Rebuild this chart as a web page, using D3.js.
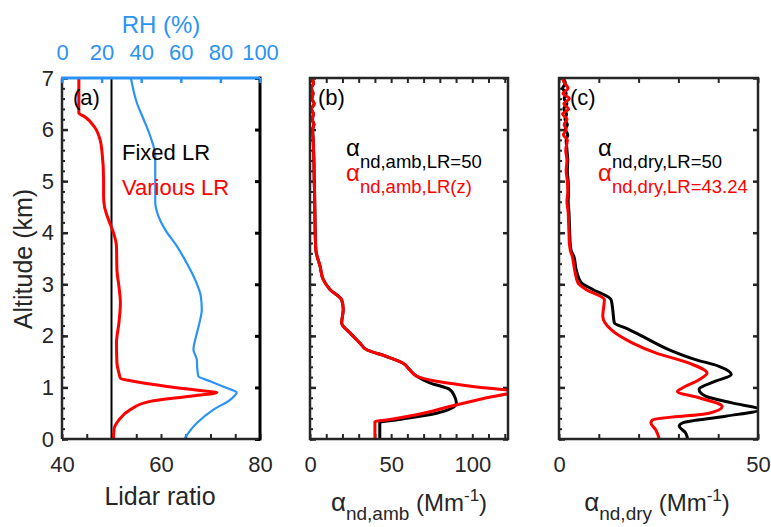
<!DOCTYPE html>
<html>
<head>
<meta charset="utf-8">
<script src="https://cdn.jsdelivr.net/npm/d3@7"></script>
<style>
  body { margin: 0; background: #fff; }
  text { font-family: "Liberation Sans", Arial, sans-serif; }
</style>
</head>
<body>
<svg id="chart" width="771" height="527"></svg>
<script>
// ---- data ----
// (a) lidar ratio profile (various LR) and RH
const lrAlt = [7.0, 6.32, 6.25, 6.03, 5.8, 5.55, 5.03, 4.7, 4.5, 4.25, 4.0, 3.74, 3.28, 2.96, 2.64, 2.25, 1.86, 1.47, 1.28, 1.18, 1.12, 1.02, 0.94, 0.9, 0.83, 0.73, 0.57, 0.37, 0.18, 0.0];
const lrVarious = [43.4, 43.4, 44.6, 46.7, 47.7, 48.1, 48.4, 48.4, 48.6, 49.4, 50.4, 51.0, 51.1, 51.5, 51.8, 51.5, 51.0, 51.1, 51.5, 51.8, 54.4, 61.2, 67.9, 71.3, 65.9, 57.8, 53.8, 51.5, 50.5, 50.4];
const lrFixed = 50;
const rhAlt = [7.0, 6.52, 6.2, 5.88, 5.49, 5.03, 4.58, 4.32, 4.06, 3.74, 3.41, 3.09, 2.77, 2.51, 2.25, 1.99, 1.73, 1.54, 1.38, 1.22, 1.12, 0.99, 0.9, 0.76, 0.57, 0.31, 0.0];
const rhVal = [34.8, 37.8, 41.2, 44.5, 47.1, 47.1, 47.1, 48.7, 52.1, 58.0, 63.0, 67.2, 70.1, 70.6, 69.4, 67.7, 66.4, 68.1, 68.3, 68.8, 74.8, 83.2, 88.2, 84.9, 76.5, 68.1, 61.7];

// (b) ambient extinction
const ambUpperAlt = [7.0, 6.9, 6.8, 6.7, 6.6, 6.5, 6.4, 6.3, 6.2, 6.1, 6.0, 5.8, 5.6, 5.4, 5.2, 5.0, 4.8, 4.6, 4.4, 4.2, 4.0, 3.8, 3.64];
const ambUpper = [1.0, 2.2, 0.8, 1.9, 1.2, 2.6, 0.9, 2.1, 1.4, 2.4, 1.6, 2.0, 2.2, 2.4, 2.5, 2.6, 2.8, 2.9, 3.0, 3.1, 3.2, 3.4, 3.7];
const ambFixedAlt = [3.35, 3.09, 2.9, 2.7, 2.51, 2.25, 2.06, 1.86, 1.73, 1.6, 1.47, 1.34, 1.22, 1.09, 0.96, 0.83, 0.7, 0.6, 0.5, 0.37, 0.32, 0.2, 0.0];
const ambFixed = [6.2, 8.2, 12.3, 19.5, 20.5, 19.5, 24.6, 30.8, 34.9, 47.2, 57.4, 61.5, 65.6, 73.8, 86.1, 89.0, 90.2, 87.5, 77.9, 53.0, 43.0, 43.0, 43.0];
const ambVarAlt = [3.35, 3.09, 2.9, 2.7, 2.51, 2.25, 2.06, 1.86, 1.73, 1.6, 1.47, 1.34, 1.22, 1.12, 1.02, 0.92, 0.8, 0.63, 0.47, 0.37, 0.34, 0.2, 0.0];
const ambVar = [6.2, 8.2, 12.3, 19.5, 20.5, 19.5, 24.6, 30.8, 34.9, 47.2, 57.4, 61.5, 65.6, 77.9, 100.0, 125.0, 108.7, 86.0, 65.6, 47.2, 40.0, 40.0, 40.0];

// (c) dry extinction
const dryUpperAlt = [7.0, 6.9, 6.8, 6.7, 6.6, 6.5, 6.4, 6.3, 6.2, 6.1, 6.0, 5.9, 5.8, 5.6, 5.4, 5.2, 5.0, 4.8, 4.6, 4.4, 4.2, 4.0, 3.8, 3.64];
const dryFixedUpper = [1.0, 1.6, 0.9, 1.8, 1.3, 2.0, 1.2, 1.9, 1.5, 2.1, 1.6, 2.2, 1.8, 2.0, 2.2, 2.1, 2.3, 2.4, 2.3, 2.5, 2.6, 2.7, 2.8, 3.1];
const dryVarUpper = [0.8, 1.4, 2.3, 1.0, 2.6, 1.2, 2.4, 0.9, 2.0, 1.3, 1.8, 1.1, 2.1, 1.7, 2.0, 1.8, 2.1, 2.2, 2.0, 2.3, 2.4, 2.5, 2.6, 2.9];
const dryFixedAlt = [3.55, 3.29, 3.03, 2.9, 2.7, 2.51, 2.25, 2.15, 1.99, 1.73, 1.54, 1.41, 1.25, 1.12, 0.96, 0.83, 0.7, 0.57, 0.44, 0.31, 0.25, 0.12, 0.0];
const dryFixed = [3.7, 4.3, 5.6, 8.5, 13.1, 13.5, 13.9, 16.8, 21.0, 27.7, 34.3, 40.2, 43.3, 39.3, 35.2, 36.8, 43.5, 50.5, 41.8, 31.0, 30.2, 31.8, 32.3];
const dryVarAlt = [3.55, 3.29, 3.03, 2.9, 2.7, 2.38, 2.12, 1.86, 1.67, 1.47, 1.28, 1.15, 0.99, 0.92, 0.8, 0.63, 0.5, 0.37, 0.31, 0.18, 0.0];
const dryVar = [3.3, 3.9, 4.75, 6.8, 11.4, 11.0, 13.1, 18.5, 24.3, 32.7, 37.2, 35.2, 31.0, 29.75, 35.2, 41.0, 37.7, 23.5, 23.1, 24.3, 25.2];

const altTicks = [0, 1, 2, 3, 4, 5, 6, 7];
const lrTicks = [40, 60, 80];
const rhTicks = [0, 20, 40, 60, 80, 100];
const ambTicks = [0, 50, 100];
const dryTicks = [0, 50];

// ---- layout ----
const svg = d3.select("#chart");
const plotTop = 78, plotBottom = 439;
const axisGray = "#262626", blue = "#2b93f5", red = "#ff0000";

const y = d3.scaleLinear().domain([0, 7]).range([plotBottom, plotTop]);
const xa = d3.scaleLinear().domain([40, 80]).range([62, 260]);
const xrh = d3.scaleLinear().domain([0, 100]).range([62, 260]);
const xb = d3.scaleLinear().domain([0, 122]).range([310, 508]);
const xc = d3.scaleLinear().domain([0, 50]).range([559, 758]);

function styleAxis(g, color, width, size) {
    g.select(".domain").remove();
    g.selectAll(".tick line").attr("stroke", color).attr("stroke-width", width);
    g.selectAll(".tick text").attr("fill", color).style("font-size", size + "px");
}

function frame(x, id, minorStep) {
    const [x0, x1] = x.range();
    svg.append("clipPath").attr("id", id)
        .append("rect").attr("x", x0).attr("y", plotTop).attr("width", x1 - x0).attr("height", plotBottom - plotTop);

    // left axis: minor + major ticks
    svg.append("g").attr("transform", `translate(${x0},0)`)
        .call(d3.axisLeft(y).tickValues(d3.range(0, 7.01, 0.2)).tickSize(-3).tickFormat(""))
        .call(g => styleAxis(g, axisGray, 2, 0));
    svg.append("g").attr("transform", `translate(${x0},0)`)
        .call(d3.axisLeft(y).tickValues(altTicks).tickSize(-6).tickFormat(""))
        .call(g => styleAxis(g, axisGray, 2.5, 0));
    // bottom ticks
    const xs = d3.range(x.domain()[0], x.domain()[1] + 0.01, minorStep);
    svg.append("g").attr("transform", `translate(0,${plotBottom})`)
        .call(d3.axisBottom(x).tickValues(xs).tickSize(-5).tickFormat(""))
        .call(g => styleAxis(g, axisGray, 2, 0));
    return [x0, x1];
}

function profile(x, vals, alts, color, width, clip) {
    svg.append("path")
        .datum(d3.zip(vals, alts))
        .attr("clip-path", `url(#${clip})`)
        .attr("fill", "none")
        .attr("stroke", color)
        .attr("stroke-width", width)
        .attr("stroke-linejoin", "round")
        .attr("d", d3.line().x(d => x(d[0])).y(d => y(d[1])).curve(d3.curveMonotoneY));
}

// ---- panel (a) ----
const [ax0, ax1] = frame(xa, "clipA", 5);
svg.append("line")
    .attr("x1", xa(lrFixed)).attr("x2", xa(lrFixed))
    .attr("y1", y(0)).attr("y2", y(7))
    .attr("stroke", "#000").attr("stroke-width", 2);
profile(xrh, rhVal, rhAlt, blue, 2.2, "clipA");
profile(xa, lrVarious, lrAlt, red, 3, "clipA");

// right axis (black) and top RH axis (blue)
svg.append("g").attr("transform", `translate(${ax1},0)`)
    .call(d3.axisRight(y).tickValues(altTicks).tickSize(-5).tickFormat(""))
    .call(g => styleAxis(g, "#000", 3, 0));
svg.append("line").attr("x1", ax0).attr("x2", ax0).attr("y1", plotTop).attr("y2", plotBottom)
    .attr("stroke", axisGray).attr("stroke-width", 2.5);
svg.append("line").attr("x1", ax0).attr("x2", ax1).attr("y1", plotBottom).attr("y2", plotBottom)
    .attr("stroke", axisGray).attr("stroke-width", 2.5);
svg.append("line").attr("x1", ax1).attr("x2", ax1).attr("y1", plotTop - 1.5).attr("y2", plotBottom + 1.5)
    .attr("stroke", "#000").attr("stroke-width", 3);
svg.append("g").attr("transform", `translate(0,${plotTop})`)
    .call(d3.axisTop(xrh).tickValues(rhTicks).tickSize(-5).tickPadding(18))
    .call(g => styleAxis(g, blue, 2.5, 22));
svg.append("line").attr("x1", ax0 - 1).attr("x2", ax1).attr("y1", plotTop).attr("y2", plotTop)
    .attr("stroke", blue).attr("stroke-width", 3);

svg.append("g").attr("transform", `translate(${ax0},0)`)
    .call(d3.axisLeft(y).tickValues(altTicks).tickSize(0).tickPadding(8).tickFormat(d3.format("d")))
    .call(g => styleAxis(g, axisGray, 0, 22));
svg.append("g").attr("transform", `translate(0,${plotBottom})`)
    .call(d3.axisBottom(xa).tickValues(lrTicks).tickSize(0).tickPadding(17))
    .call(g => styleAxis(g, axisGray, 0, 22));

svg.append("text").attr("x", 73).attr("y", 105).attr("font-size", 22).text("(a)");
svg.append("text").attr("x", 122).attr("y", 160).attr("font-size", 22).attr("fill", "#000").text("Fixed LR");
svg.append("text").attr("x", 122).attr("y", 195).attr("font-size", 22).attr("fill", red).text("Various LR");

svg.append("text").attr("x", 161).attr("y", 33).attr("text-anchor", "middle")
    .attr("font-size", 24).attr("fill", blue).text("RH (%)");
svg.append("text").attr("x", 160).attr("y", 505).attr("text-anchor", "middle")
    .attr("font-size", 25).attr("fill", axisGray).text("Lidar ratio");
svg.append("text").attr("transform", "translate(32,259) rotate(-90)").attr("text-anchor", "middle")
    .attr("font-size", 25).attr("fill", axisGray).text("Altitude (km)");

// ---- panels (b) and (c) ----
function boxPanel(x, clip, minorStep, tickVals) {
    const [x0, x1] = frame(x, clip, minorStep);
    const xs = d3.range(x.domain()[0], x.domain()[1] + 0.01, minorStep);
    svg.append("g").attr("transform", `translate(0,${plotTop})`)
        .call(d3.axisTop(x).tickValues(xs).tickSize(-5).tickFormat(""))
        .call(g => styleAxis(g, axisGray, 2, 0));
    svg.append("g").attr("transform", `translate(${x1},0)`)
        .call(d3.axisRight(y).tickValues(altTicks).tickSize(-5).tickFormat(""))
        .call(g => styleAxis(g, axisGray, 2.5, 0));
    svg.append("g").attr("transform", `translate(0,${plotBottom})`)
        .call(d3.axisBottom(x).tickValues(tickVals).tickSize(0).tickPadding(17))
        .call(g => styleAxis(g, axisGray, 0, 22));
    return [x0, x1];
}

function outline(x0, x1) {
    svg.append("rect").attr("x", x0).attr("y", plotTop).attr("width", x1 - x0).attr("height", plotBottom - plotTop)
        .attr("fill", "none").attr("stroke", axisGray).attr("stroke-width", 2.5);
}

function alphaLabel(x, yy, sub, color, size, subSize) {
    const t = svg.append("text").attr("x", x).attr("y", yy).attr("fill", color).attr("font-size", size);
    t.append("tspan").text("α");
    t.append("tspan").attr("font-size", subSize).attr("dy", 12).text(sub);
}

const [bx0, bx1] = boxPanel(xb, "clipB", 10, ambTicks);
profile(xb, ambUpper.concat(ambFixed), ambUpperAlt.concat(ambFixedAlt), "#000", 3, "clipB");
profile(xb, ambUpper.concat(ambVar), ambUpperAlt.concat(ambVarAlt), red, 3, "clipB");
outline(bx0, bx1);
svg.append("text").attr("x", 318).attr("y", 105).attr("font-size", 22).text("(b)");
alphaLabel(346, 156, "nd,amb,LR=50", "#000", 24, 18.5);
alphaLabel(346, 181, "nd,amb,LR(z)", red, 24, 18.5);

const [cx0, cx1] = boxPanel(xc, "clipC", 10, dryTicks);
profile(xc, dryFixedUpper.concat(dryFixed), dryUpperAlt.concat(dryFixedAlt), "#000", 3, "clipC");
profile(xc, dryVarUpper.concat(dryVar), dryUpperAlt.concat(dryVarAlt), red, 3, "clipC");
outline(cx0, cx1);
svg.append("text").attr("x", 570).attr("y", 105).attr("font-size", 22).text("(c)");
alphaLabel(598, 156, "nd,dry,LR=50", "#000", 24, 18.5);
alphaLabel(598, 181, "nd,dry,LR=43.24", red, 24, 18.5);

// bottom axis labels with sub/superscripts
function extLabel(cx, sub) {
    const t = svg.append("text").attr("x", cx).attr("y", 511).attr("text-anchor", "middle")
        .attr("fill", axisGray).attr("font-size", 24);
    t.append("tspan").attr("font-size", 26).text("α");
    t.append("tspan").attr("font-size", 19).attr("dy", 9).text(sub);
    t.append("tspan").attr("dy", -9).text(" (Mm");
    t.append("tspan").attr("font-size", 17).attr("dy", -10).text("-1");
    t.append("tspan").attr("dy", 10).text(")");
}
extLabel(409, "nd,amb");
extLabel(657, "nd,dry");
</script>
</body>
</html>
